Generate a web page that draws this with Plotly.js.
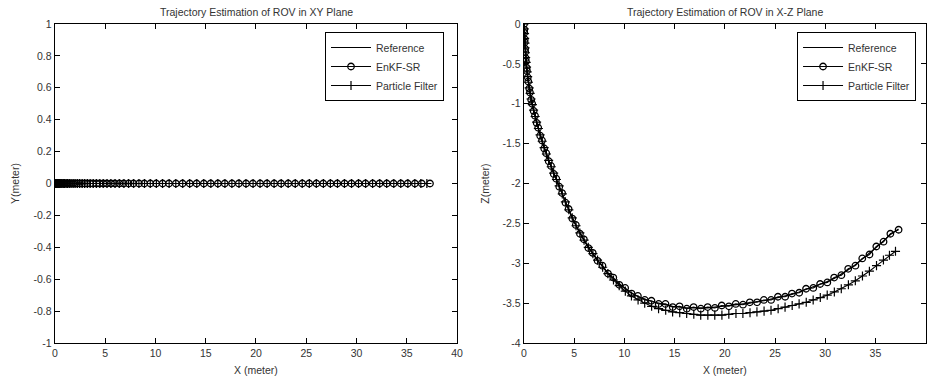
<!DOCTYPE html>
<html>
<head>
<meta charset="utf-8">
<script src="https://cdn.plot.ly/plotly-3.0.1.min.js"></script>
<style>html,body{margin:0;padding:0;background:#fff;}#plot{width:927px;height:380px;}</style>
</head>
<body>
<div id="plot"></div>
<script>
// Reference trajectory (X, Z)
const xRef = [0, 0.02, 0.04, 0.06, 0.08, 0.1, 0.13, 0.16, 0.2, 0.25, 0.3, 0.36, 0.43, 0.51, 0.6, 0.7, 0.82, 0.95, 1.1, 1.25, 1.42, 1.6, 1.8, 2.0, 2.22, 2.45, 2.7, 2.95, 3.22, 3.5, 3.8, 4.12, 4.45, 4.8, 5.17, 5.56, 5.97, 6.4, 6.85, 7.32, 7.82, 8.35, 8.9, 9.48, 10.08, 10.7, 11.35, 12.02, 12.7, 13.4, 14.1, 14.8, 15.5, 16.2, 16.9, 17.6, 18.3, 19.0, 19.7, 20.4, 21.1, 21.8, 22.5, 23.2, 23.9, 24.6, 25.3, 26.0, 26.7, 27.4, 28.1, 28.8, 29.5, 30.2, 30.9, 31.6, 32.3, 33.0, 33.7, 34.4, 35.1, 35.8, 36.5, 37.3];
const zRef = [0, -0.06, -0.12, -0.18, -0.24, -0.3, -0.36, -0.42, -0.48, -0.54, -0.6, -0.66, -0.73, -0.8, -0.87, -0.94, -1.01, -1.08, -1.16, -1.23, -1.31, -1.39, -1.47, -1.55, -1.63, -1.71, -1.79, -1.87, -1.95, -2.03, -2.13, -2.23, -2.33, -2.43, -2.53, -2.62, -2.71, -2.8, -2.88, -2.96, -3.04, -3.12, -3.19, -3.26, -3.32, -3.37, -3.42, -3.45, -3.48, -3.5, -3.52, -3.54, -3.55, -3.56, -3.56, -3.56, -3.56, -3.55, -3.54, -3.53, -3.52, -3.51, -3.5, -3.48, -3.47, -3.45, -3.43, -3.41, -3.39, -3.36, -3.33, -3.3, -3.27, -3.23, -3.19, -3.14, -3.08, -3.02, -2.95, -2.88, -2.8, -2.72, -2.64, -2.57];
const yRef = [0,0,0,0,0,0,0,0,0,0,0,0,0,0,0,0,0,0,0,0,0,0,0,0,0,0,0,0,0,0,0,0,0,0,0,0,0,0,0,0,0,0,0,0,0,0,0,0,0,0,0,0,0,0,0,0,0,0,0,0,0,0,0,0,0,0,0,0,0,0,0,0,0,0,0,0,0,0,0,0,0,0,0,0];

// EnKF-SR estimate
const xEnkf = [0, 0.03, 0.03, 0.07, 0.07, 0.11, 0.12, 0.17, 0.19, 0.26, 0.29, 0.37, 0.42, 0.52, 0.59, 0.71, 0.81, 0.96, 1.09, 1.26, 1.41, 1.61, 1.79, 2.01, 2.21, 2.46, 2.69, 2.96, 3.21, 3.51, 3.79, 4.13, 4.44, 4.81, 5.16, 5.57, 5.96, 6.41, 6.84, 7.33, 7.81, 8.36, 8.89, 9.49, 10.07, 10.71, 11.34, 12.03, 12.69, 13.41, 14.09, 14.81, 15.49, 16.21, 16.89, 17.61, 18.29, 19.01, 19.69, 20.41, 21.09, 21.81, 22.49, 23.21, 23.89, 24.61, 25.29, 26.01, 26.69, 27.41, 28.09, 28.81, 29.49, 30.21, 30.89, 31.61, 32.29, 33.01, 33.69, 34.41, 35.09, 35.81, 36.49, 37.31];
const zEnkf = [0, -0.07, -0.11, -0.19, -0.23, -0.31, -0.35, -0.43, -0.47, -0.55, -0.59, -0.67, -0.72, -0.81, -0.86, -0.95, -1.0, -1.09, -1.15, -1.24, -1.3, -1.4, -1.46, -1.56, -1.62, -1.72, -1.78, -1.88, -1.94, -2.04, -2.12, -2.24, -2.32, -2.44, -2.52, -2.63, -2.7, -2.81, -2.87, -2.97, -3.03, -3.13, -3.18, -3.27, -3.31, -3.38, -3.41, -3.46, -3.47, -3.51, -3.51, -3.55, -3.54, -3.57, -3.55, -3.57, -3.55, -3.56, -3.53, -3.54, -3.51, -3.52, -3.49, -3.49, -3.46, -3.46, -3.42, -3.42, -3.38, -3.37, -3.32, -3.31, -3.26, -3.24, -3.18, -3.15, -3.07, -3.03, -2.94, -2.89, -2.79, -2.73, -2.63, -2.58];
const yEnkf = [0,0,0,0,0,0,0,0,0,0,0,0,0,0,0,0,0,0,0,0,0,0,0,0,0,0,0,0,0,0,0,0,0,0,0,0,0,0,0,0,0,0,0,0,0,0,0,0,0,0,0,0,0,0,0,0,0,0,0,0,0,0,0,0,0,0,0,0,0,0,0,0,0,0,0,0,0,0,0,0,0,0,0,0];

// Particle Filter estimate
const xPf = [0, 0.02, 0.05, 0.06, 0.09, 0.1, 0.14, 0.16, 0.21, 0.25, 0.31, 0.36, 0.44, 0.51, 0.61, 0.7, 0.83, 0.95, 1.11, 1.25, 1.43, 1.6, 1.81, 2.0, 2.23, 2.45, 2.71, 2.95, 3.23, 3.5, 3.81, 4.12, 4.46, 4.8, 5.18, 5.56, 5.98, 6.4, 6.86, 7.32, 7.83, 8.35, 8.91, 9.48, 10.09, 10.7, 11.36, 12.02, 12.71, 13.4, 14.11, 14.8, 15.51, 16.2, 16.91, 17.6, 18.31, 19.0, 19.71, 20.4, 21.11, 21.8, 22.51, 23.2, 23.91, 24.6, 25.31, 26.0, 26.71, 27.4, 28.11, 28.8, 29.51, 30.2, 30.91, 31.6, 32.31, 33.0, 33.71, 34.4, 35.11, 35.8, 36.4, 37.0];
const zPf = [0, -0.06, -0.12, -0.18, -0.24, -0.3, -0.36, -0.42, -0.48, -0.54, -0.6, -0.66, -0.73, -0.8, -0.87, -0.94, -1.01, -1.08, -1.16, -1.23, -1.31, -1.39, -1.47, -1.55, -1.63, -1.71, -1.79, -1.87, -1.95, -2.03, -2.13, -2.23, -2.33, -2.43, -2.53, -2.62, -2.71, -2.8, -2.88, -2.96, -3.05, -3.13, -3.21, -3.28, -3.35, -3.41, -3.46, -3.5, -3.54, -3.57, -3.59, -3.61, -3.62, -3.63, -3.64, -3.65, -3.65, -3.65, -3.65, -3.64, -3.63, -3.63, -3.62, -3.61, -3.6, -3.59, -3.57, -3.55, -3.53, -3.51, -3.49, -3.46, -3.43, -3.4, -3.36, -3.32, -3.27, -3.22, -3.16, -3.1, -3.03, -2.96, -2.9, -2.85];
const yPf = [0,0,0,0,0,0,0,0,0,0,0,0,0,0,0,0,0,0,0,0,0,0,0,0,0,0,0,0,0,0,0,0,0,0,0,0,0,0,0,0,0,0,0,0,0,0,0,0,0,0,0,0,0,0,0,0,0,0,0,0,0,0,0,0,0,0,0,0,0,0,0,0,0,0,0,0,0,0,0,0,0,0,0,0];

// Tick labels
const xTickVals = [0, 5, 10, 15, 20, 25, 30, 35, 40];
const xTickText = ['0', '5', '10', '15', '20', '25', '30', '35', '40'];
const yTickVals = [-1, -0.8, -0.6, -0.4, -0.2, 0, 0.2, 0.4, 0.6, 0.8, 1];
const yTickText = ['-1', '-0.8', '-0.6', '-0.4', '-0.2', '0', '0.2', '0.4', '0.6', '0.8', '1'];
const zTickVals = [-4, -3.5, -3, -2.5, -2, -1.5, -1, -0.5, 0];
const zTickText = ['-4', '-3.5', '-3', '-2.5', '-2', '-1.5', '-1', '-0.5', '0'];

const seriesNames = ['Reference', 'EnKF-SR', 'Particle Filter'];

const FONT = 'Liberation Sans, Arial, sans-serif';
const lineRef = {color: '#000', width: 1.2};
const lineEst = {color: '#000', width: 1.1};
const mkCircle = {symbol: 'circle-open', size: 6.5, color: '#000', line: {width: 1.3, color: '#000'}};
const mkPlus = {symbol: 'cross-thin-open', size: 6.5, color: '#000', line: {width: 1.2, color: '#000'}};

const traces = [
  {x: xRef, y: yRef, name: seriesNames[0], mode: 'lines', line: lineRef, xaxis: 'x', yaxis: 'y', legend: 'legend'},
  {x: xEnkf, y: yEnkf, name: seriesNames[1], mode: 'lines+markers', line: lineEst, marker: mkCircle, xaxis: 'x', yaxis: 'y', legend: 'legend'},
  {x: xPf, y: yPf, name: seriesNames[2], mode: 'lines+markers', line: lineEst, marker: mkPlus, xaxis: 'x', yaxis: 'y', legend: 'legend'},
  {x: xRef, y: zRef, name: seriesNames[0], mode: 'lines', line: lineRef, xaxis: 'x2', yaxis: 'y2', legend: 'legend2'},
  {x: xEnkf, y: zEnkf, name: seriesNames[1], mode: 'lines+markers', line: lineEst, marker: mkCircle, xaxis: 'x2', yaxis: 'y2', legend: 'legend2'},
  {x: xPf, y: zPf, name: seriesNames[2], mode: 'lines+markers', line: lineEst, marker: mkPlus, xaxis: 'x2', yaxis: 'y2', legend: 'legend2'}
];

const axBase = {
  showgrid: false, zeroline: false, showline: true, linecolor: '#000', linewidth: 1.3,
  mirror: 'ticks', ticks: 'inside', ticklen: 5, tickcolor: '#000', tickwidth: 1,
  tickfont: {family: FONT, size: 10.5, color: '#333'}, automargin: false
};
const legBase = {
  bgcolor: '#fff', bordercolor: '#000', borderwidth: 1,
  font: {family: FONT, size: 10.5, color: '#333'}, xanchor: 'left', yanchor: 'top',
  tracegroupgap: 0, itemwidth: 40
};

const layout = {
  width: 927, height: 380,
  margin: {l: 0, r: 0, t: 0, b: 0},
  paper_bgcolor: '#fff', plot_bgcolor: '#fff',
  showlegend: true,
  xaxis: Object.assign({}, axBase, {domain: [0.0593, 0.4930], range: [0, 40], tickvals: xTickVals, ticktext: xTickText,
    title: {text: 'X (meter)', font: {family: FONT, size: 10.5, color: '#333'}, standoff: 8}, anchor: 'y'}),
  yaxis: Object.assign({}, axBase, {domain: [0.0974, 0.9368], range: [-1, 1], tickvals: yTickVals, ticktext: yTickText,
    title: {text: 'Y(meter)', font: {family: FONT, size: 10.5, color: '#333'}, standoff: 11}, anchor: 'x'}),
  xaxis2: Object.assign({}, axBase, {domain: [0.5653, 0.9985], range: [0, 40], tickvals: xTickVals, ticktext: xTickText,
    title: {text: 'X (meter)', font: {family: FONT, size: 10.5, color: '#333'}, standoff: 8}, anchor: 'y2'}),
  yaxis2: Object.assign({}, axBase, {domain: [0.0974, 0.9368], range: [-4, 0], tickvals: zTickVals, ticktext: zTickText,
    title: {text: 'Z(meter)', font: {family: FONT, size: 10.5, color: '#333'}, standoff: 11}, anchor: 'x2'}),
  legend: Object.assign({}, legBase, {x: 0.3506, y: 0.9158}),
  legend2: Object.assign({}, legBase, {x: 0.8598, y: 0.9158}),
  annotations: [
    {text: 'Trajectory Estimation of ROV in XY Plane', xref: 'paper', yref: 'paper', x: 0.2762, y: 1 - 12/380,
      xanchor: 'center', yanchor: 'middle', showarrow: false, font: {family: FONT, size: 10.5, color: '#333'}},
    {text: 'Trajectory Estimation of ROV in X-Z Plane', xref: 'paper', yref: 'paper', x: 0.7819, y: 1 - 12/380,
      xanchor: 'center', yanchor: 'middle', showarrow: false, font: {family: FONT, size: 10.5, color: '#333'}}
  ]
};

Plotly.newPlot('plot', traces, layout, {displayModeBar: false, staticPlot: true});
</script>
</body>
</html>
